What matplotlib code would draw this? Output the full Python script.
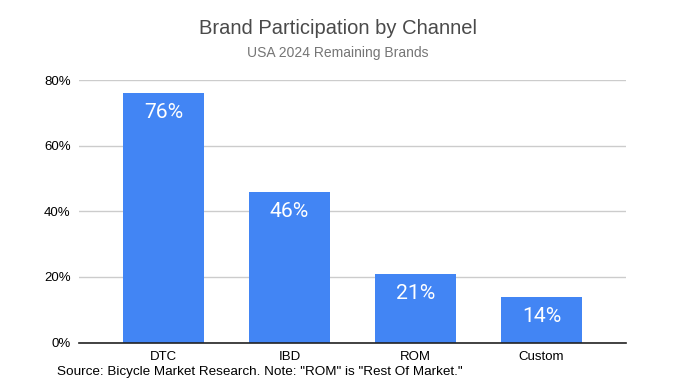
import matplotlib
matplotlib.use("Agg")
import matplotlib.pyplot as plt
from matplotlib.ticker import PercentFormatter

channels = ["DTC", "IBD", "ROM", "Custom"]
share = [76, 46, 21, 14]
bar_labels = ["76%", "46%", "21%", "14%"]
yticks = [0, 20, 40, 60, 80]

plt.rcParams['font.family'] = ['Liberation Sans', 'DejaVu Sans']

fig = plt.figure(figsize=(6.76, 3.8), dpi=100)
ax = fig.add_axes([79/676, 37.5/380, 547/676, 262.2/380])

x = range(len(channels))
bars = ax.bar(x, share, width=0.645, color='#4285F4', zorder=3)

# white value labels, baseline ~25px under the bar top
for b, lab in zip(bars, bar_labels):
    ax.annotate(lab, (b.get_x() + b.get_width()/2, b.get_height()),
                xytext=(0, -25), textcoords='offset pixels',
                ha='center', va='baseline', color='white', fontsize=15.2,
                family='Roboto', zorder=5)

ax.set_xlim(-0.67, 3.67)
ax.set_ylim(0, 80)
ax.set_yticks(yticks)
ax.yaxis.set_major_formatter(PercentFormatter(decimals=0))
ax.set_xticks(list(x))
ax.set_xticklabels(channels)
ax.tick_params(axis='both', length=0, labelsize=9.5, colors='black')
ax.tick_params(axis='y', pad=6)
ax.tick_params(axis='x', pad=6)
ax.grid(axis='y', color='#cccccc', linewidth=1, zorder=0)
for s in ['top', 'right', 'left']:
    ax.spines[s].set_visible(False)
ax.spines['bottom'].set_color('#222222')
ax.spines['bottom'].set_linewidth(1.2)
ax.spines['bottom'].set_zorder(4)

fig.text(0.5, 1 - 28/380, "Brand Participation by Channel", ha='center', va='center',
         fontsize=14.5, color='#4a4a4a')
fig.text(0.5, 1 - 53/380, "USA 2024 Remaining Brands", ha='center', va='center',
         fontsize=10, color='#757575')
fig.text(57/676, 1 - 371.5/380, 'Source: Bicycle Market Research. Note: "ROM" is "Rest Of Market."',
         ha='left', va='center', fontsize=9.7, color='black')

fig.savefig("out.png", dpi=100)
